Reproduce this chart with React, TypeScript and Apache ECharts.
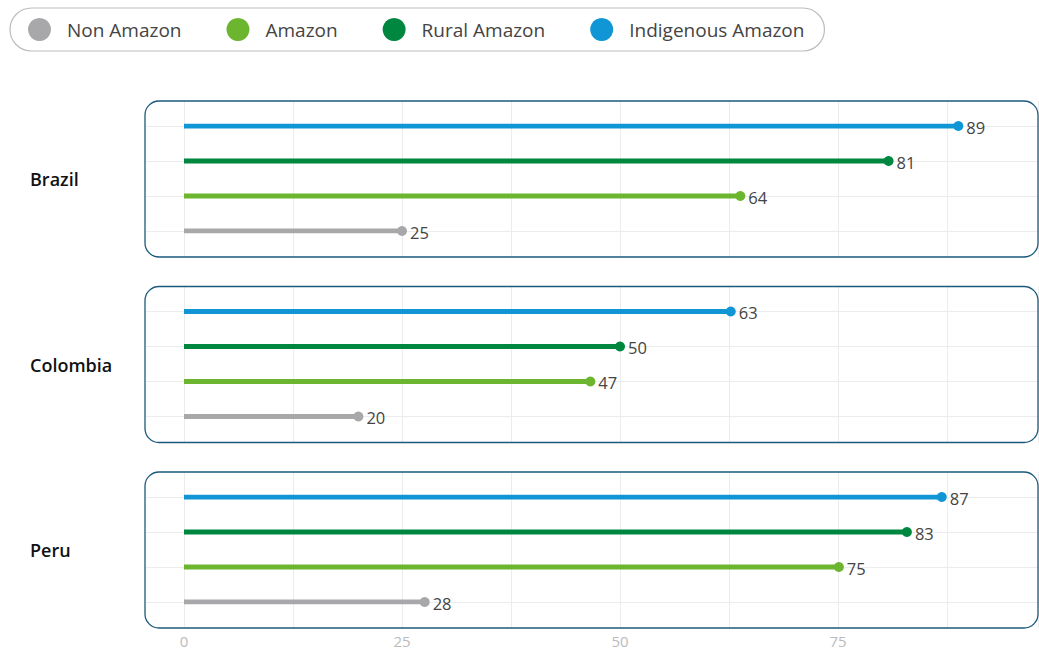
import React, { useEffect, useRef } from "react";
import * as echarts from "echarts";

// ---- data ----
const REGIONS = ["Brazil", "Colombia", "Peru"];
const GROUPS = ["Non Amazon", "Amazon", "Rural Amazon", "Indigenous Amazon"]; // bottom -> top
const NON_AMAZON = [25, 20, 27.6];
const AMAZON = [63.8, 46.6, 75.1];
const RURAL_AMAZON = [80.8, 50, 82.9];
const INDIGENOUS_AMAZON = [88.8, 62.7, 86.9];
const VALUES = [NON_AMAZON, AMAZON, RURAL_AMAZON, INDIGENOUS_AMAZON];
const COLORS = ["#a8a8aa", "#6cb52f", "#00873f", "#1196d5"];
const X_MIN = 0;
const X_INTERVAL = 12.5;
const X_LABEL_STEP = 25;

// ---- layout ----
const W = 1039;
const H = 651;
const BOX_LEFT = 145;
const BOX_RIGHT = 1038;
const PLOT_LEFT = 184;
const PX_PER_UNIT = 8.72;
const PANEL_TOP0 = 101;
const PANEL_STEP = 185.5;
const PANEL_H = 156;
const ROW_OFFSET = 25;
const ROW_SPAN = 105;
const FONT = "'Open Sans', 'Noto Sans', sans-serif";

export default function App() {
  const ref = useRef<HTMLDivElement>(null);

  useEffect(() => {
    if (!ref.current) return;
    const chart = echarts.init(ref.current, null, { renderer: "svg" });

    const plotW = BOX_RIGHT - PLOT_LEFT;
    const xMax = X_MIN + plotW / PX_PER_UNIT;

    const grid: any[] = [];
    const xAxis: any[] = [];
    const yAxis: any[] = [];
    const series: any[] = [];
    const graphic: any[] = [];

    REGIONS.forEach((region, r) => {
      const top = PANEL_TOP0 + r * PANEL_STEP;
      const isLast = r === REGIONS.length - 1;

      // grid A : horizontal row lines across the whole box
      const gA = grid.length;
      grid.push({ left: BOX_LEFT, width: BOX_RIGHT - BOX_LEFT, top: top + ROW_OFFSET, height: ROW_SPAN });
      xAxis.push({
        gridIndex: gA, type: "value", min: 0, max: 1,
        axisLine: { show: false }, axisTick: { show: false }, axisLabel: { show: false }, splitLine: { show: false },
      });
      yAxis.push({
        gridIndex: gA, type: "category", data: GROUPS, boundaryGap: false,
        axisLine: { show: false }, axisTick: { show: false }, axisLabel: { show: false },
        splitLine: { show: true, lineStyle: { color: "#ececec", width: 1 } },
      });

      // grid B : vertical value grid lines over the full box height
      const gB = grid.length;
      grid.push({ left: PLOT_LEFT, width: plotW, top: top, height: PANEL_H });
      xAxis.push({
        gridIndex: gB, type: "value", min: X_MIN, max: xMax, interval: X_INTERVAL,
        axisLine: { show: false }, axisTick: { show: false },
        axisLabel: {
          show: isLast, margin: 5, color: "#bbbbbb", fontSize: 15, fontFamily: FONT,
          showMaxLabel: false,
          formatter: (v: number) => (Math.abs(v % X_LABEL_STEP) < 1e-6 ? String(v) : ""),
        },
        splitLine: { show: true, lineStyle: { color: "#ececec", width: 1 } },
      });
      yAxis.push({
        gridIndex: gB, type: "value", min: 0, max: 1,
        axisLine: { show: false }, axisTick: { show: false }, axisLabel: { show: false }, splitLine: { show: false },
      });

      // grid C : lollipops
      const gC = grid.length;
      grid.push({ left: PLOT_LEFT, width: plotW, top: top + ROW_OFFSET, height: ROW_SPAN });
      xAxis.push({
        gridIndex: gC, type: "value", min: X_MIN, max: xMax,
        axisLine: { show: false }, axisTick: { show: false }, axisLabel: { show: false }, splitLine: { show: false },
      });
      yAxis.push({
        gridIndex: gC, type: "category", data: GROUPS, boundaryGap: false,
        axisLine: { show: false }, axisTick: { show: false }, axisLabel: { show: false }, splitLine: { show: false },
      });

      GROUPS.forEach((g, k) => {
        const v = VALUES[k][r];
        series.push({
          name: g,
          type: "line",
          xAxisIndex: gC,
          yAxisIndex: gC,
          color: COLORS[k],
          lineStyle: { width: 5, color: COLORS[k], cap: "butt" },
          symbol: "circle",
          symbolSize: 10,
          z: 3,
          emphasis: { disabled: true },
          data: [
            { value: [0, g], symbol: "none" },
            {
              value: [v, g],
              label: {
                show: true, position: "right", distance: 3,
                color: "#444444", fontSize: 16.5, fontFamily: FONT, offset: [0, 1],
                formatter: (p: any) => String(Math.round(p.value[0])),
              },
            },
          ],
        });
      });

      // panel frame
      graphic.push({
        type: "rect", z: 10, silent: true,
        shape: { x: BOX_LEFT, y: top, width: BOX_RIGHT - BOX_LEFT, height: PANEL_H, r: 14 },
        style: { fill: "none", stroke: "#1b5a7c", lineWidth: 1.3 },
      });
      // region name
      graphic.push({
        type: "text", z: 10, silent: true,
        x: 30, y: top + PANEL_H / 2,
        style: {
          text: region, fill: "#111111", fontSize: 18, fontWeight: 600, fontFamily: FONT,
          verticalAlign: "middle", align: "left",
        },
      });
    });

    chart.setOption({
      animation: false,
      legend: {
        data: GROUPS,
        left: 10,
        top: 8,
        icon: "circle",
        itemWidth: 23,
        itemHeight: 23,
        itemGap: 45,
        padding: [10, 20, 10, 18],
        borderColor: "#bcbcbc",
        borderWidth: 1.2,
        borderRadius: 22,
        textStyle: { fontSize: 19, color: "#444444", fontFamily: FONT, padding: [0, 0, 0, 11] },
      },
      grid,
      xAxis,
      yAxis,
      series,
      graphic,
    });

    return () => chart.dispose();
  }, []);

  return (
    <div
      ref={ref}
      style={{ position: "absolute", left: 0, top: 0, width: W, height: H, background: "#ffffff" }}
    />
  );
}
